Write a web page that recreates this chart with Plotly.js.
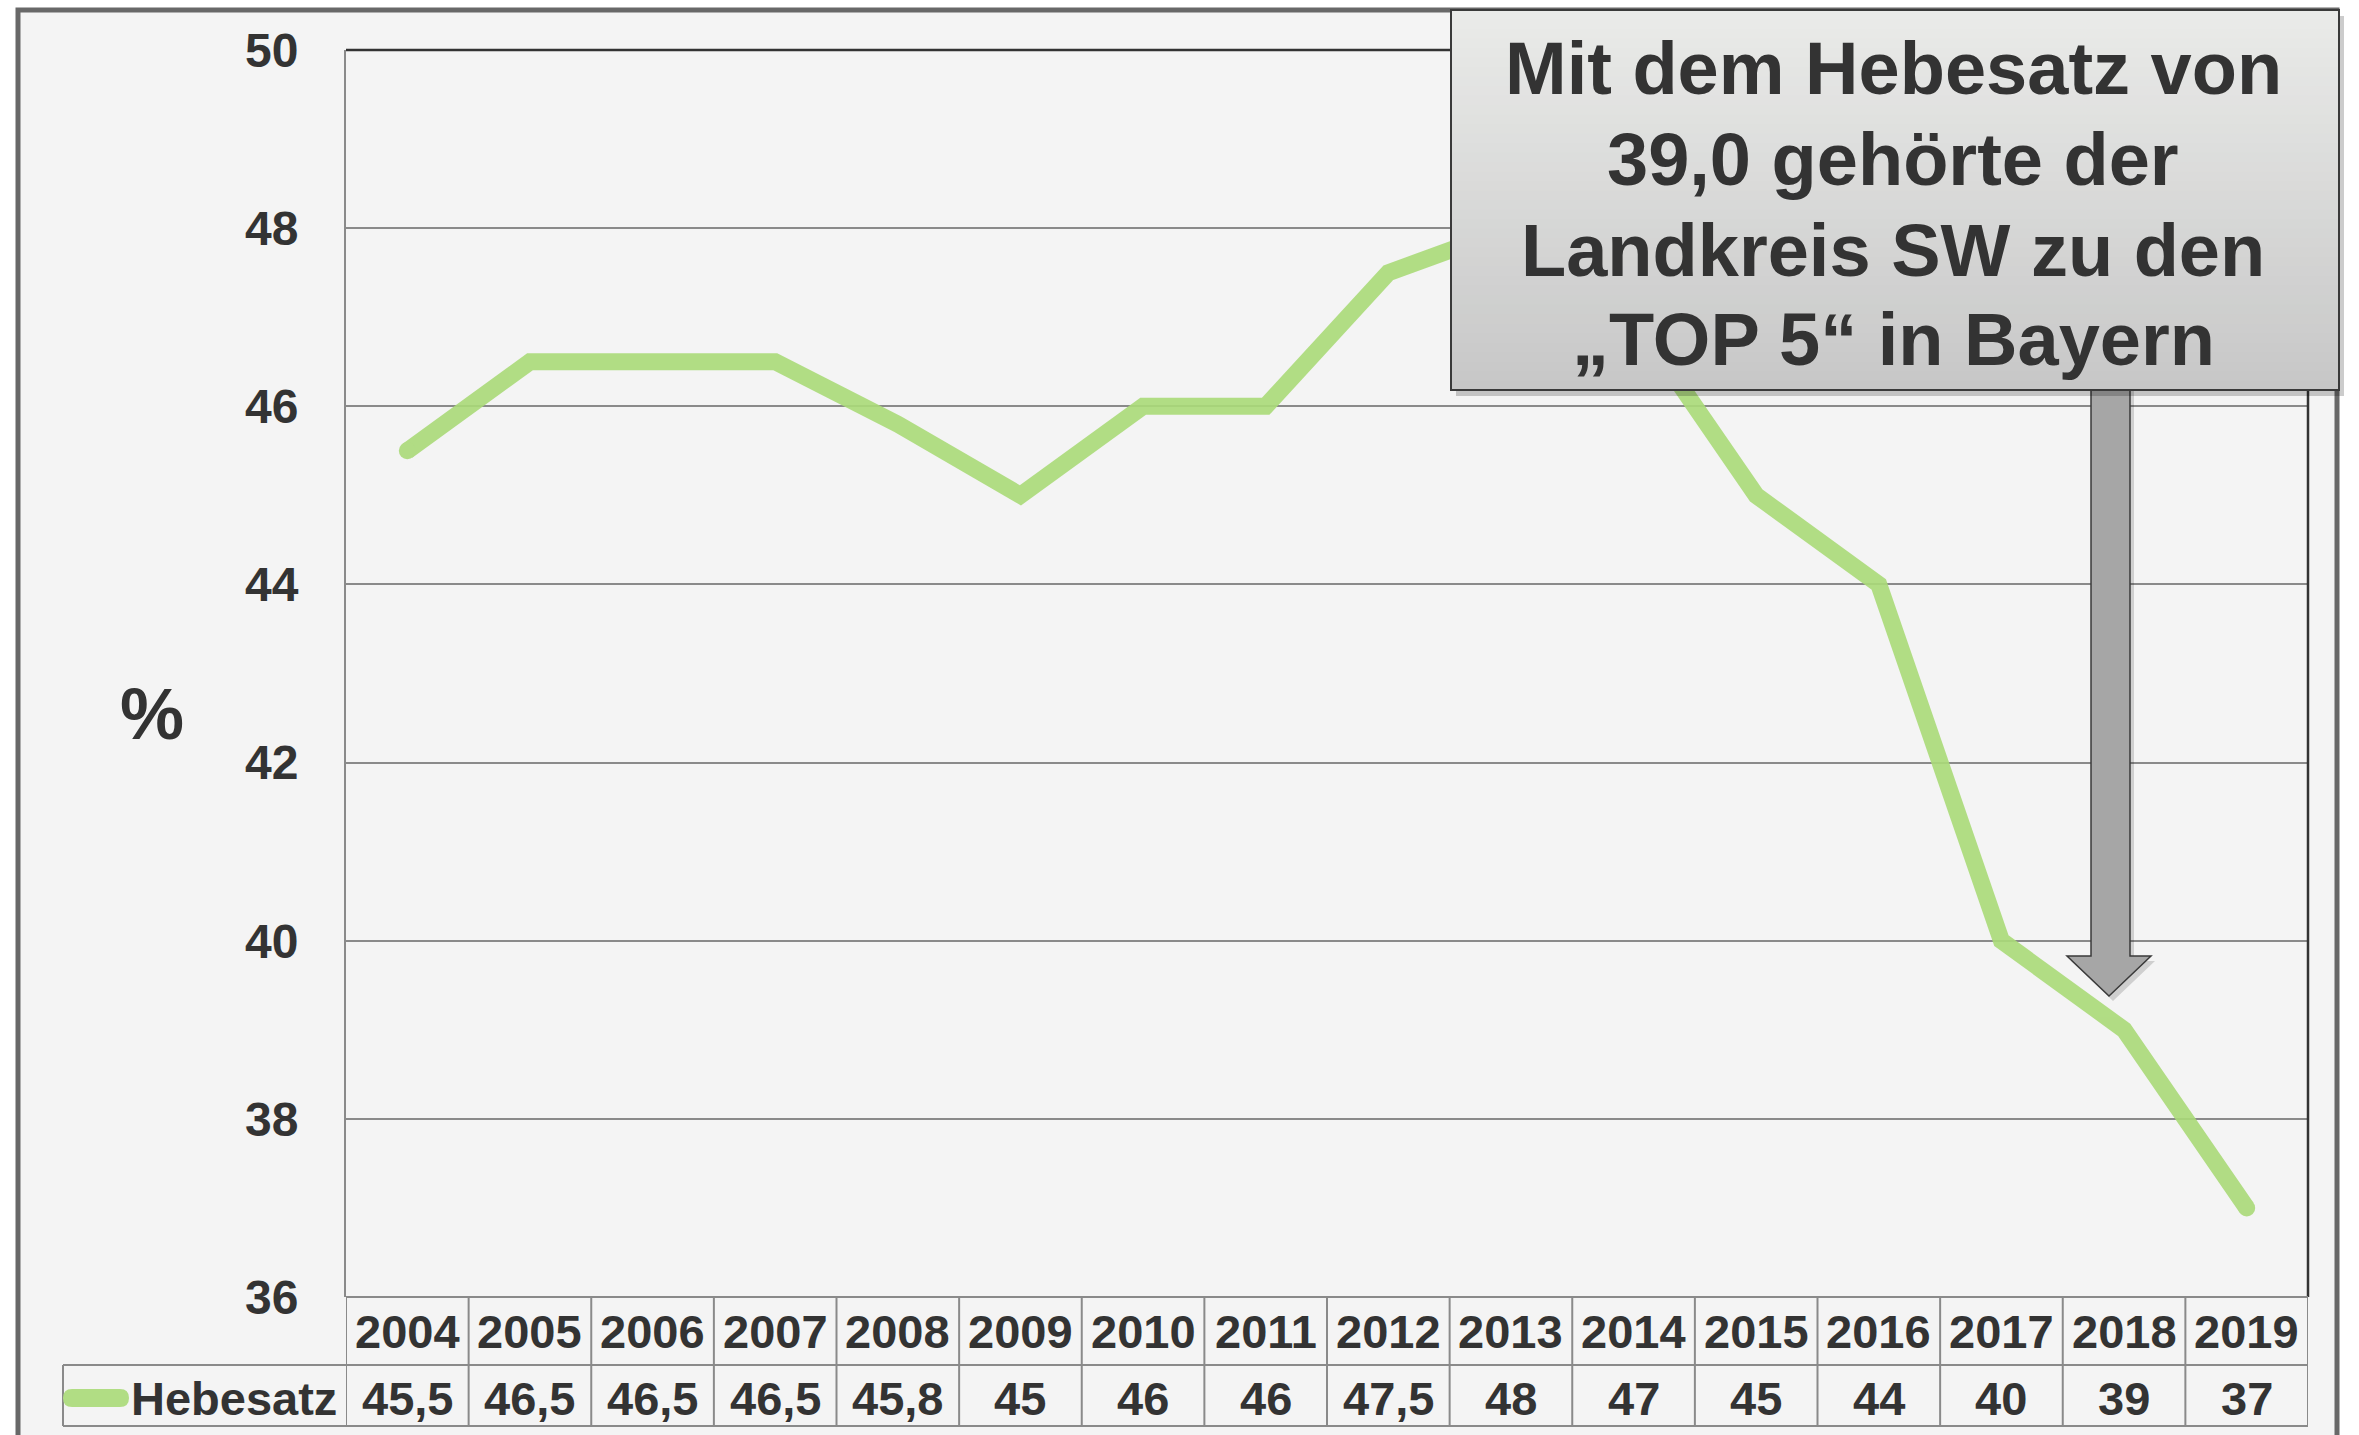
<!DOCTYPE html>
<html>
<head>
<meta charset="utf-8">
<script src="https://cdn.plot.ly/plotly-3.0.1.min.js"></script>
<style>
html,body{margin:0;padding:0;background:#ffffff;}
#chart{width:2359px;height:1435px;}
</style>
</head>
<body>
<div id="chart"></div>
<script>
// ---- data ----
const years = [2004, 2005, 2006, 2007, 2008, 2009, 2010, 2011, 2012, 2013, 2014, 2015, 2016, 2017, 2018, 2019];
const hebesatz = [45.5, 46.5, 46.5, 46.5, 45.8, 45, 46, 46, 47.5, 48, 47, 45, 44, 40, 39, 37];
const seriesName = "Hebesatz";
const yTitle = "%";
const calloutLines = ["Mit dem Hebesatz von", "39,0 gehörte der", "Landkreis SW zu den", "„TOP 5“ in Bayern"];

// ---- geometry helpers (pixel -> paper) ----
const W = 2359, H = 1435;
const L = 346, R = 2308, T = 50, B = 1297;
const px = x => (x - L) / (R - L);
const py = y => (B - y) / (B - T);

const FONT = "Liberation Sans, Arial, sans-serif";
const TXT = "#333333";
const GRID = "#8a8a8a";
const fontB = (s, c) => ({family: FONT, size: s, color: c || TXT, weight: "bold"});

const shapes = [];
const annotations = [];

// outer frame
shapes.push({type: "rect", xref: "paper", yref: "paper", layer: "below",
  x0: px(18), x1: px(2337), y0: py(1460), y1: py(10),
  fillcolor: "#f4f4f4", line: {color: "#686868", width: 5}});

// plot top + right border (dark)
shapes.push({type: "line", xref: "paper", yref: "paper", x0: 0, x1: 1, y0: 1, y1: 1, line: {color: "#333", width: 2.5}});
shapes.push({type: "line", xref: "paper", yref: "paper", x0: 1, x1: 1, y0: 0, y1: 1, line: {color: "#333", width: 2.5}});

// data table grid
const first = years[0] - 0.5, last = years[years.length - 1] + 0.5;
const rowMid = py(1365), rowBot = py(1426);
shapes.push({type: "line", xref: "x", yref: "paper", x0: first, x1: last, y0: 0, y1: 0, line: {color: GRID, width: 2}});
shapes.push({type: "line", xref: "paper", yref: "paper", x0: px(63), x1: 1, y0: rowMid, y1: rowMid, line: {color: GRID, width: 2}});
shapes.push({type: "line", xref: "paper", yref: "paper", x0: px(63), x1: 1, y0: rowBot, y1: rowBot, line: {color: GRID, width: 2}});
shapes.push({type: "line", xref: "paper", yref: "paper", x0: px(63), x1: px(63), y0: rowBot, y1: rowMid, line: {color: GRID, width: 2}});
years.concat([last + 0.5]).forEach(yr => {
  const xb = yr - 0.5;
  shapes.push({type: "line", xref: "x", yref: "paper", x0: xb, x1: xb, y0: rowBot, y1: 0, line: {color: GRID, width: 2}});
});

// table text
years.forEach((yr, i) => {
  annotations.push({xref: "x", yref: "paper", x: yr, y: py(1331), text: String(yr), showarrow: false,
    xanchor: "center", yanchor: "middle", font: fontB(47)});
  annotations.push({xref: "x", yref: "paper", x: yr, y: py(1398), text: String(hebesatz[i]).replace(".", ","), showarrow: false,
    xanchor: "center", yanchor: "middle", font: fontB(47)});
});
annotations.push({xref: "paper", yref: "paper", x: px(339), y: py(1398), text: seriesName, showarrow: false,
  xanchor: "right", yanchor: "middle", font: fontB(47)});

// legend swatch (rounded bar)
(function () {
  const x0 = px(63), x1 = px(129), y0 = py(1389), y1 = py(1407), ym = py(1398);
  const r = 9 / (R - L);
  shapes.push({type: "path", xref: "paper", yref: "paper", fillcolor: "rgb(177,221,132)", line: {width: 0},
    path: `M ${x0 + r},${y0} L ${x1 - r},${y0} Q ${x1},${y0} ${x1},${ym} Q ${x1},${y1} ${x1 - r},${y1} L ${x0 + r},${y1} Q ${x0},${y1} ${x0},${ym} Q ${x0},${y0} ${x0 + r},${y0} Z`});
})();

// y title
annotations.push({xref: "paper", yref: "paper", x: px(152), y: py(714), text: yTitle, showarrow: false,
  xanchor: "center", yanchor: "middle", font: fontB(72)});

// arrow (block arrow pointing down)
function arrowPath(dx, dy) {
  const p = [[2091, 380], [2130, 380], [2130, 956], [2151, 956], [2109, 996], [2067, 956], [2091, 956]];
  return "M " + p.map(q => `${px(q[0] + dx)},${py(q[1] + dy)}`).join(" L ") + " Z";
}
shapes.push({type: "path", xref: "paper", yref: "paper", path: arrowPath(4, 5), fillcolor: "rgba(0,0,0,0.15)", line: {width: 0}});
shapes.push({type: "path", xref: "paper", yref: "paper", path: arrowPath(0, 0), fillcolor: "#a6a6a6", line: {color: "#3a3a3a", width: 1.5}});

// callout box: shadow, gradient bands, border
const bx0 = 1451, bx1 = 2339, by0 = 10, by1 = 390;
shapes.push({type: "rect", xref: "paper", yref: "paper", x0: px(bx0 + 5), x1: px(bx1 + 5), y0: py(by1 + 6), y1: py(by0 + 6),
  fillcolor: "rgba(0,0,0,0.2)", line: {width: 0}});
const NB = 40;
const c0 = [234, 235, 233], c1 = [199, 199, 199];
for (let k = 0; k < NB; k++) {
  const t = (k + 0.5) / NB;
  const c = c0.map((v, j) => Math.round(v + (c1[j] - v) * t));
  const ya = by0 + (by1 - by0) * k / NB, yb = by0 + (by1 - by0) * (k + 1) / NB + 0.6;
  shapes.push({type: "rect", xref: "paper", yref: "paper", x0: px(bx0), x1: px(bx1), y0: py(yb), y1: py(ya),
    fillcolor: `rgb(${c[0]},${c[1]},${c[2]})`, line: {width: 0}});
}
shapes.push({type: "rect", xref: "paper", yref: "paper", x0: px(bx0), x1: px(bx1), y0: py(by1), y1: py(by0),
  fillcolor: "rgba(0,0,0,0)", line: {color: "#3a3a3a", width: 2}});

const lineY = [69, 159.5, 250, 340];
calloutLines.forEach((s, i) => {
  annotations.push({xref: "paper", yref: "paper", x: px(1893), y: py(lineY[i]), text: s, showarrow: false,
    xanchor: "center", yanchor: "middle", font: fontB(74)});
});

// ---- trace ----
const markerSizes = hebesatz.map((v, i) => (i === 0 || i === hebesatz.length - 1) ? 17 : 0);
const trace = {
  x: years, y: hebesatz, type: "scatter", mode: "lines+markers", name: seriesName,
  line: {color: "rgb(170,218,120)", width: 17},
  marker: {color: "rgb(170,218,120)", size: markerSizes, opacity: 1, line: {width: 0}},
  opacity: 0.9, hoverinfo: "skip", showlegend: false
};

const layout = {
  width: W, height: H,
  margin: {l: L, r: W - R, t: T, b: H - B, pad: 0},
  paper_bgcolor: "#ffffff", plot_bgcolor: "rgba(0,0,0,0)",
  showlegend: false,
  xaxis: {type: "linear", range: [first, last], showticklabels: false, showgrid: false, zeroline: false, showline: false, ticks: ""},
  yaxis: {range: [36, 50], tick0: 36, dtick: 2, showgrid: true, gridcolor: GRID, gridwidth: 2,
    zeroline: false, showline: true, linecolor: GRID, linewidth: 2,
    ticks: "outside", ticklen: 36, tickcolor: "rgba(0,0,0,0)", tickfont: fontB(48)},
  shapes: shapes,
  annotations: annotations
};

Plotly.newPlot("chart", [trace], layout, {staticPlot: true, displayModeBar: false});
</script>
</body>
</html>
